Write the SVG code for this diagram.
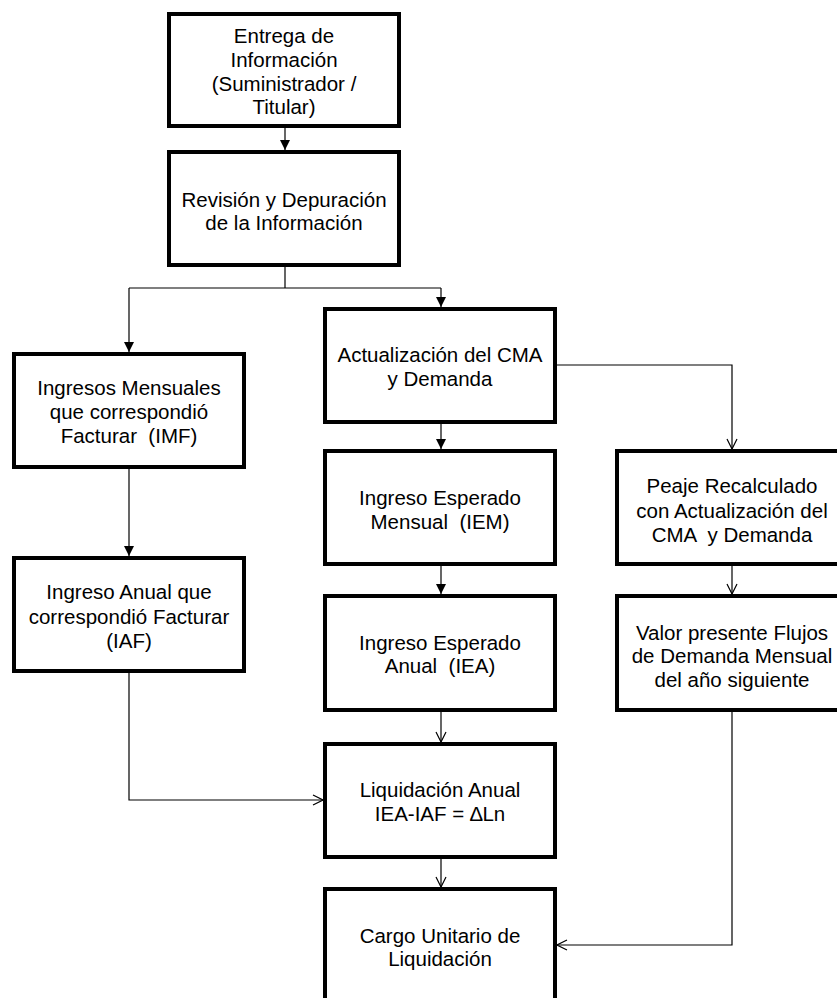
<svg xmlns="http://www.w3.org/2000/svg" width="837" height="998" viewBox="0 0 837 998">
<style>
.box{fill:#fff;stroke:#000;stroke-width:4}
.t{font-family:"Liberation Sans",Arial,sans-serif;font-size:20.5px;fill:#000;text-anchor:middle;white-space:pre}
.c{fill:none;stroke:#000;stroke-width:1.2}
.f{marker-end:url(#fa)}
.o{marker-end:url(#oa)}
</style>
<defs>
<marker id="fa" markerUnits="userSpaceOnUse" markerWidth="10" markerHeight="10" refX="8" refY="4" orient="auto" viewBox="0 0 8 8">
<path d="M0,0 L8,4 L0,8 z" fill="#000"/>
</marker>
<marker id="oa" markerUnits="userSpaceOnUse" markerWidth="12" markerHeight="12" refX="10" refY="5" orient="auto" viewBox="-1 -1 12 12">
<path d="M0,0 L10,5 L0,10" fill="none" stroke="#000" stroke-width="1.2"/>
</marker>
</defs>
<rect width="837" height="998" fill="#fff"/>
<g id="connectors">
<path class="c f" d="M285,128 V150"/>
<path class="c" d="M285,267 V288 M129,288 H441"/>
<path class="c f" d="M129,288 V352"/>
<path class="c f" d="M441,288 V307"/>
<path class="c f" d="M129,469 V556"/>
<path class="c f" d="M441,424 V449"/>
<path class="c f" d="M441,566 V594"/>
<path class="c o" d="M557,365 H732 V449"/>
<path class="c o" d="M732,566 V594"/>
<path class="c o" d="M441,712 V742"/>
<path class="c o" d="M129,673 V800 H323"/>
<path class="c o" d="M441,859 V887"/>
<path class="c o" d="M732,712 V945 H557"/>
</g>
<g id="n1"><rect class="box" x="169" y="14" width="230" height="112"/>
<text class="t" x="284"><tspan x="284" y="43">Entrega de</tspan><tspan x="284" y="67">Información</tspan><tspan x="284" y="91">(Suministrador /</tspan><tspan x="284" y="114">Titular)</tspan></text></g>
<g id="n2"><rect class="box" x="169" y="152" width="230" height="113"/>
<text class="t"><tspan x="284" y="207">Revisión y Depuración</tspan><tspan x="284" y="230">de la Información</tspan></text></g>
<g id="n3"><rect class="box" x="14" y="354" width="230" height="113"/>
<text class="t"><tspan x="129" y="395">Ingresos Mensuales</tspan><tspan x="129" y="419">que correspondió</tspan><tspan x="129" y="443">Facturar  (IMF)</tspan></text></g>
<g id="n4"><rect class="box" x="14" y="558" width="230" height="113"/>
<text class="t"><tspan x="129" y="599">Ingreso Anual que</tspan><tspan x="129" y="624">correspondió Facturar</tspan><tspan x="129" y="648">(IAF)</tspan></text></g>
<g id="n5"><rect class="box" x="325" y="309" width="230" height="113"/>
<text class="t"><tspan x="440" y="362">Actualización del CMA</tspan><tspan x="440" y="386">y Demanda</tspan></text></g>
<g id="n6"><rect class="box" x="325" y="451" width="230" height="113"/>
<text class="t"><tspan x="440" y="505">Ingreso Esperado</tspan><tspan x="440" y="529">Mensual  (IEM)</tspan></text></g>
<g id="n7"><rect class="box" x="325" y="596" width="230" height="114"/>
<text class="t"><tspan x="440" y="650">Ingreso Esperado</tspan><tspan x="440" y="673">Anual  (IEA)</tspan></text></g>
<g id="n8"><rect class="box" x="325" y="744" width="230" height="113"/>
<text class="t"><tspan x="440" y="797">Liquidación Anual</tspan><tspan x="440" y="821">IEA-IAF = ∆Ln</tspan></text></g>
<g id="n9"><rect class="box" x="325" y="889" width="230" height="113"/>
<text class="t"><tspan x="440" y="943">Cargo Unitario de</tspan><tspan x="440" y="966">Liquidación</tspan></text></g>
<g id="n10"><rect class="box" x="617" y="451" width="230" height="113"/>
<text class="t"><tspan x="732" y="493">Peaje Recalculado</tspan><tspan x="732" y="518">con Actualización del</tspan><tspan x="732" y="542">CMA  y Demanda</tspan></text></g>
<g id="n11"><rect class="box" x="617" y="596" width="230" height="114"/>
<text class="t"><tspan x="732" y="640">Valor presente Flujos</tspan><tspan x="732" y="663">de Demanda Mensual</tspan><tspan x="732" y="687">del año siguiente</tspan></text></g>
</svg>
